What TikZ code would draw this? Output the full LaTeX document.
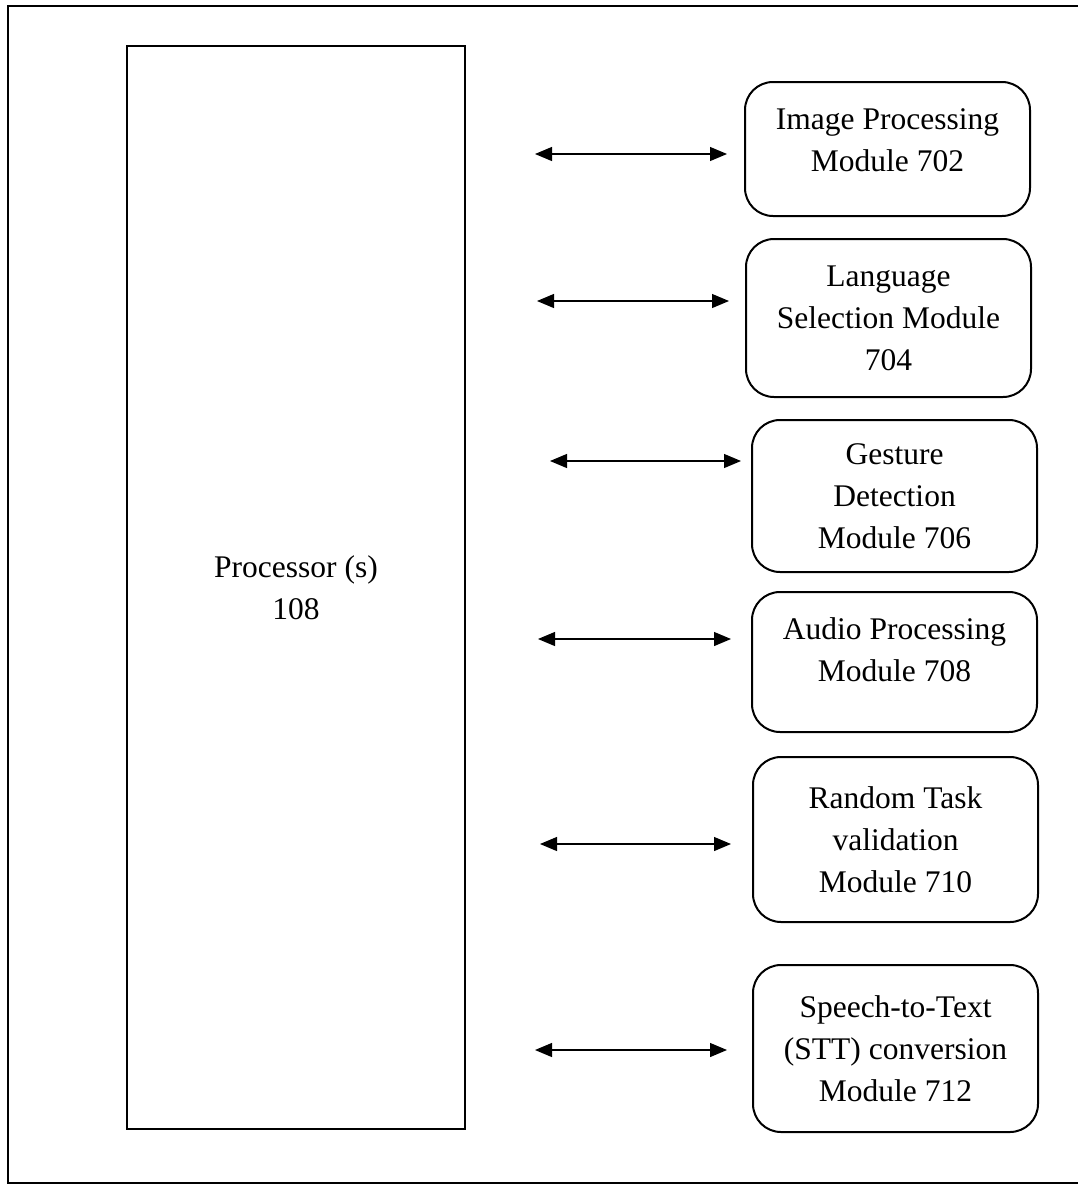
\documentclass[tikz,border=0pt]{standalone}
\usepackage{fontspec}
\setmainfont{Liberation Serif}
\usetikzlibrary{arrows.meta,positioning}

\begin{document}
\begin{tikzpicture}[x=1pt,y=-1pt,
    box/.style={draw,line width=2pt,rounded corners=28pt,minimum width=285pt,
                inner sep=0pt,outer sep=0pt,align=center,font=\fontsize{31.5}{42}\selectfont},
    arr/.style={{Triangle[length=17pt,width=14pt]}-{Triangle[length=17pt,width=14pt]},line width=1.2pt}
  ]
    \useasboundingbox (0,0) rectangle (1078,1184);
    \draw[line width=2pt] (1078,6) -- (8,6) -- (8,1183) -- (1078,1183);
    \node[draw,line width=2pt,minimum width=338pt,minimum height=1083pt,
          align=center,font=\fontsize{31.5}{42}\selectfont] (P) at (296,587.5) {Processor (s)\\108};
    \node[box,minimum height=134pt] (A) at (887.5,149) {Image Processing\\Module 702\\[-24pt]\mbox{}};
    \node[box,minimum height=158pt,below=23pt of A,xshift=1pt] (B) {Language\\Selection Module\\704};
    \node[box,minimum height=152pt,below=23pt of B,xshift=6pt] (C) {Gesture\\Detection\\Module 706};
    \node[box,minimum height=140pt,below=20pt of C] (D) {Audio Processing\\Module 708\\[-18pt]\mbox{}};
    \node[box,minimum height=165pt,below=25pt of D,xshift=1pt] (E) {Random Task\\validation\\Module 710};
    \node[box,minimum height=167pt,below=43pt of E] (F) {Speech-to-Text\\(STT) conversion\\Module 712};
    \coordinate (a1) at (535,154);  \coordinate (b1) at (727,154);
    \coordinate (a2) at (537,301);  \coordinate (b2) at (729,301);
    \coordinate (a3) at (550,461);  \coordinate (b3) at (741,461);
    \coordinate (a4) at (538,639);  \coordinate (b4) at (731,639);
    \coordinate (a5) at (540,844);  \coordinate (b5) at (731,844);
    \coordinate (a6) at (535,1050); \coordinate (b6) at (727,1050);
    \draw[arr] (a1)--(b1); \draw[arr] (a2)--(b2); \draw[arr] (a3)--(b3);
    \draw[arr] (a4)--(b4); \draw[arr] (a5)--(b5); \draw[arr] (a6)--(b6);
  \end{tikzpicture}
\end{document}
